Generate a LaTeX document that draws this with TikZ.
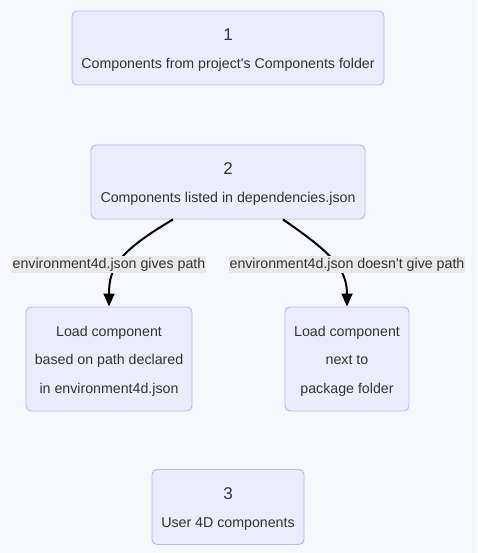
\documentclass[tikz,border=0pt]{standalone}
\usepackage{fontspec}
\setmainfont{Liberation Sans}[Ligatures=TeXOff]
\usetikzlibrary{arrows.meta}
\definecolor{pagebg}{HTML}{F7F8FE}
\definecolor{boxfill}{HTML}{ECECFF}
\definecolor{boxline}{HTML}{B8B8F5}
\definecolor{lblgray}{HTML}{E8E8E8}
\definecolor{txtgray}{HTML}{333333}
\newcommand{\topgap}[1]{\rule{0pt}{#1}}
\begin{document}
\begin{tikzpicture}[x=1pt, y=-1pt,
    stepbox/.style={draw=boxline, fill=boxfill, rounded corners=5pt, line width=0.9pt,
        align=center, text=txtgray, inner sep=0pt,
        font=\fontsize{14.2}{28.5}\selectfont},
    lbl/.style={fill=lblgray, text=txtgray, inner xsep=1pt, inner ysep=2pt,
        font=\fontsize{14.2}{16}\selectfont},
    flow/.style={-{Triangle[length=13pt, width=11pt]}, line width=2pt, black}]
    \useasboundingbox[fill=pagebg] (0,0) rectangle (477,553);
    % steps
    \node[stepbox, minimum width=312pt, minimum height=74pt] (one) at (228,48)
        {\topgap{16pt}{\fontsize{17}{28.5}\selectfont 1}\\Components from project's Components folder};
    \node[stepbox, minimum width=274pt, minimum height=74pt] (two) at (228,182)
        {\topgap{16pt}{\fontsize{17}{28.5}\selectfont 2}\\Components listed in dependencies.json};
        % branches
        \node[stepbox, minimum width=166pt, minimum height=104pt] (bypath) at (109,359)
            {\topgap{14.5pt}Load component\\based on path declared\\in environment4d.json};
        \node[stepbox, minimum width=124pt, minimum height=104pt] (nextto) at (347,359)
            {\topgap{14.5pt}Load component\\next to\\package folder};
    \node[stepbox, minimum width=152pt, minimum height=75pt] (three) at (228,507)
        {\topgap{16pt}{\fontsize{17}{28.5}\selectfont 3}\\User 4D components};

    \draw[flow] ([xshift=-55pt]two.south) .. controls (118,252) and (109,268) .. (bypath.north);
    \draw[flow] ([xshift=55pt]two.south) .. controls (330,252) and (347,268) .. (nextto.north);

    \node[lbl] (gives) at (109,264.5) {environment4d.json gives path};
    \node[lbl] (nogives) at (347,264.5) {environment4d.json doesn't give path};
\end{tikzpicture}
\end{document}
